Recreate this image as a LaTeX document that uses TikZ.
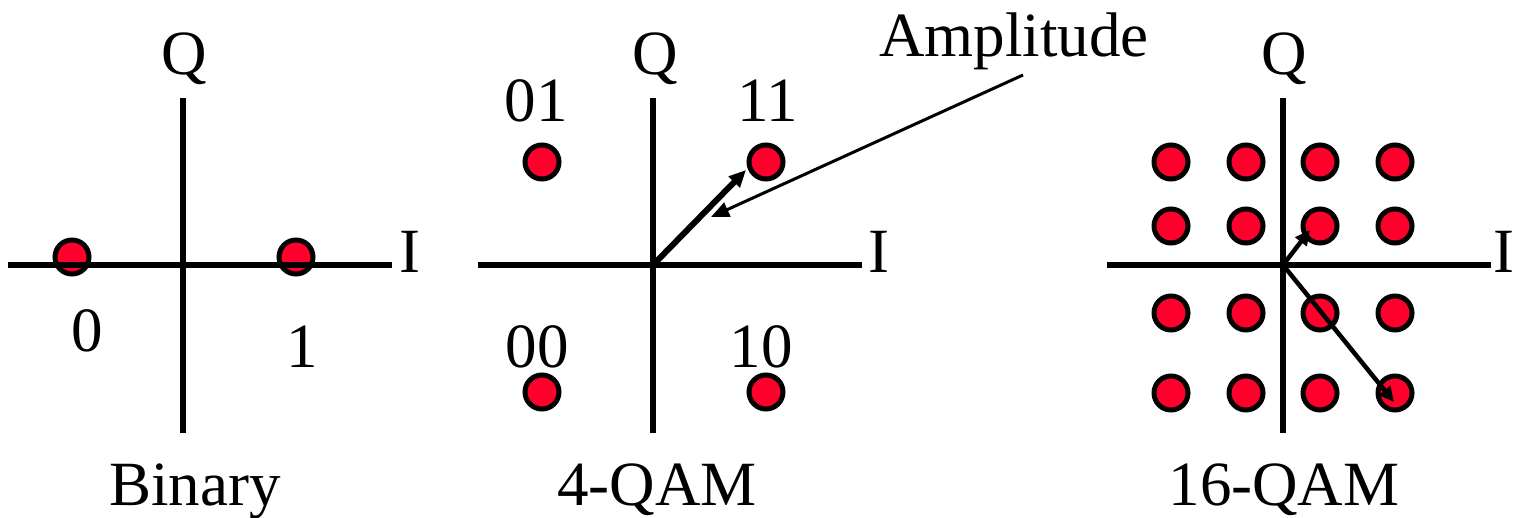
\documentclass[tikz,border=0pt]{standalone}
\usepackage{fontspec}
\setmainfont{Liberation Serif}
\usetikzlibrary{arrows.meta}
\definecolor{dotred}{RGB}{255,0,45}
\tikzset{
  pt/.style={circle,draw=black,fill=dotred,line width=5pt,minimum size=34pt,inner sep=0pt},
  axis/.style={line width=5.5pt,black},
  lbl/.style={anchor=base,inner sep=0pt,font=\fontsize{63}{70}\selectfont},
  vec/.style={line width=6pt,-{Triangle[length=17pt,width=15pt]}},
  thinvec/.style={line width=3pt,-{Triangle[length=18pt,width=15pt]}},
  svec/.style={line width=4.5pt,-{Triangle[length=15pt,width=14pt]}}
}
\begin{document}
\begin{tikzpicture}[x=1pt,y=-1pt]
\useasboundingbox (0,0) rectangle (1513,518);
% ---------- Binary ----------
\node[pt] (b0) at (72,257) {};
\node[pt] (b1) at (296,257) {};
\coordinate (bL) at (8,265);
\coordinate (bR) at (392,265);
\coordinate (bT) at (183,98);
\coordinate (bB) at (183,433);
\draw[axis] (bL) -- (bR);
\draw[axis] (bT) -- (bB);
\node[lbl] (bQ) at (184,75) {Q};
\node[lbl] (bI) at (410,273) {I};
\node[lbl] (b0l) at (87,352) {0};
\node[lbl] (b1l) at (302,368) {1};
\node[lbl] (bname) at (195,505) {Binary};
% ---------- 4-QAM ----------
\node[pt] (q01) at (542,162) {};
\node[pt] (q11) at (766,162) {};
\node[pt] (q00) at (542,392) {};
\node[pt] (q10) at (766,392) {};
\coordinate (fL) at (478,265);
\coordinate (fR) at (862,265);
\coordinate (fT) at (653,98);
\coordinate (fB) at (653,433);
\coordinate (o2) at (653,265);
\draw[axis] (fL) -- (fR);
\draw[axis] (fT) -- (fB);
\node[lbl] (fQ) at (655,75) {Q};
\node[lbl] (fI) at (879,273) {I};
\node[lbl] (l01) at (536,122) {01};
\node[lbl] (l11) at (768,122) {11};
\node[lbl] (l00) at (537,368) {00};
\node[lbl] (l10) at (761,368) {10};
\node[lbl] (fname) at (657,505) {4-QAM};
\coordinate (t2) at (746,170);
\draw[vec] (o2) -- (t2);
\node[lbl] (amp) at (1014,57) {Amplitude};
\coordinate (a1) at (1023,75);
\coordinate (a2) at (711,217);
\draw[thinvec] (a1) -- (a2);
% ---------- 16-QAM ----------
\foreach \c/\x in {1/1171,2/1246,3/1320,4/1395}{
  \foreach \r/\y in {1/162,2/226,3/313,4/393}{
    \node[pt] (s\r\c) at (\x,\y) {};
  }
}
\coordinate (sL) at (1107,265);
\coordinate (sR) at (1491,265);
\coordinate (sT) at (1283,98);
\coordinate (sB) at (1283,433);
\coordinate (o3) at (1283,265);
\draw[axis] (sL) -- (sR);
\draw[axis] (sT) -- (sB);
\node[lbl] (sQ) at (1284,75) {Q};
\node[lbl] (sI) at (1504,273) {I};
\node[lbl] (sname) at (1284,505) {16-QAM};
\coordinate (t3a) at (1310,230);
\coordinate (t3b) at (1394,402);
\draw[svec] (o3) -- (t3a);
\draw[svec] (o3) -- (t3b);
\end{tikzpicture}
\end{document}
